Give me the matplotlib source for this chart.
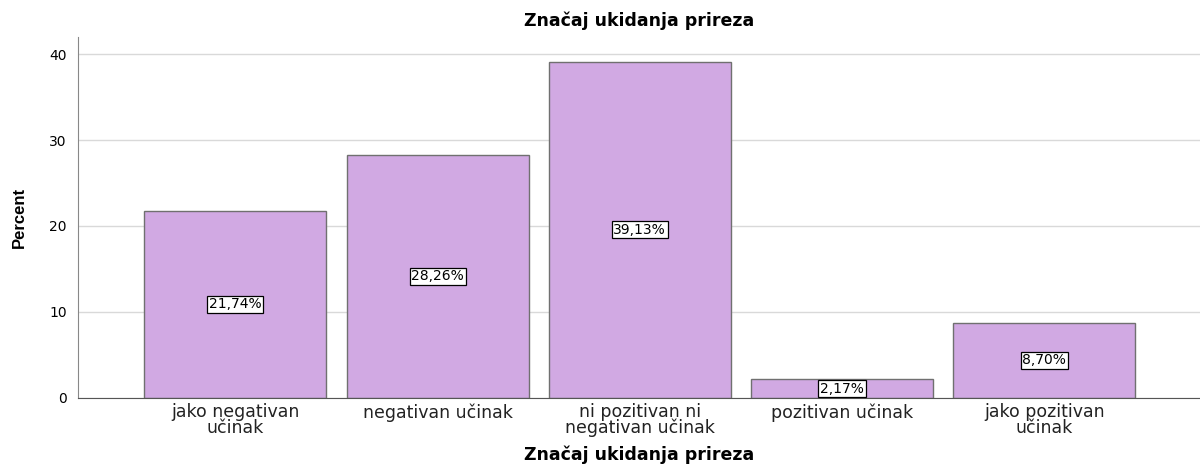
import matplotlib.pyplot as plt
import numpy as np

plt.rcParams['font.family'] = ['DejaVu Sans']

categories = ["jako negativan\nučinak", "negativan učinak", "ni pozitivan ni\nnegativan učinak",
              "pozitivan učinak", "jako pozitivan\nučinak"]
percent = [21.74, 28.26, 39.13, 2.17, 8.70]
labels = ["21,74%", "28,26%", "39,13%", "2,17%", "8,70%"]

fig = plt.figure(figsize=(12, 4.67), dpi=100)
ax = fig.add_axes([0.065, 0.148, 0.935, 0.773])

x = np.arange(len(categories))
bars = ax.bar(x, percent, width=0.9, color="#d1a9e3", edgecolor="#707070", linewidth=1, zorder=2)

# value labels in the middle of each bar
for b, lab in zip(bars, labels):
    ax.text(b.get_x() + b.get_width() / 2, b.get_height() / 2, lab, ha="center", va="center",
            fontsize=10, zorder=3,
            bbox=dict(boxstyle="square,pad=0.12", facecolor="white", edgecolor="black", linewidth=0.9))

ax.set_xlim(-0.778, 4.77)
ax.set_ylim(0, 42)
ax.set_yticks([0, 10, 20, 30, 40])
ax.set_xticks(x)
ax.set_xticklabels(categories, fontsize=12.5, linespacing=0.82, color="#222222")
ax.tick_params(axis="both", length=0)
ax.tick_params(axis="y", labelsize=10, pad=8)
ax.tick_params(axis="x", pad=4)
ax.yaxis.grid(True, color="#d9d9d9", linewidth=1, zorder=0)
ax.set_axisbelow(True)

for s in ["top", "right"]:
    ax.spines[s].set_visible(False)
ax.spines["left"].set_color("#888888")
ax.spines["bottom"].set_color("#555555")

ax.set_title("Značaj ukidanja prireza", fontsize=12.5, fontweight="bold", pad=8)
fig.text(0.533, 0.016, "Značaj ukidanja prireza", fontsize=12.5, fontweight="bold", ha="center", va="baseline")
ax.set_ylabel("Percent", fontsize=12, fontweight="bold", family=["Liberation Sans Narrow", "Liberation Sans"], labelpad=16)

fig.savefig("out.png", dpi=100)
